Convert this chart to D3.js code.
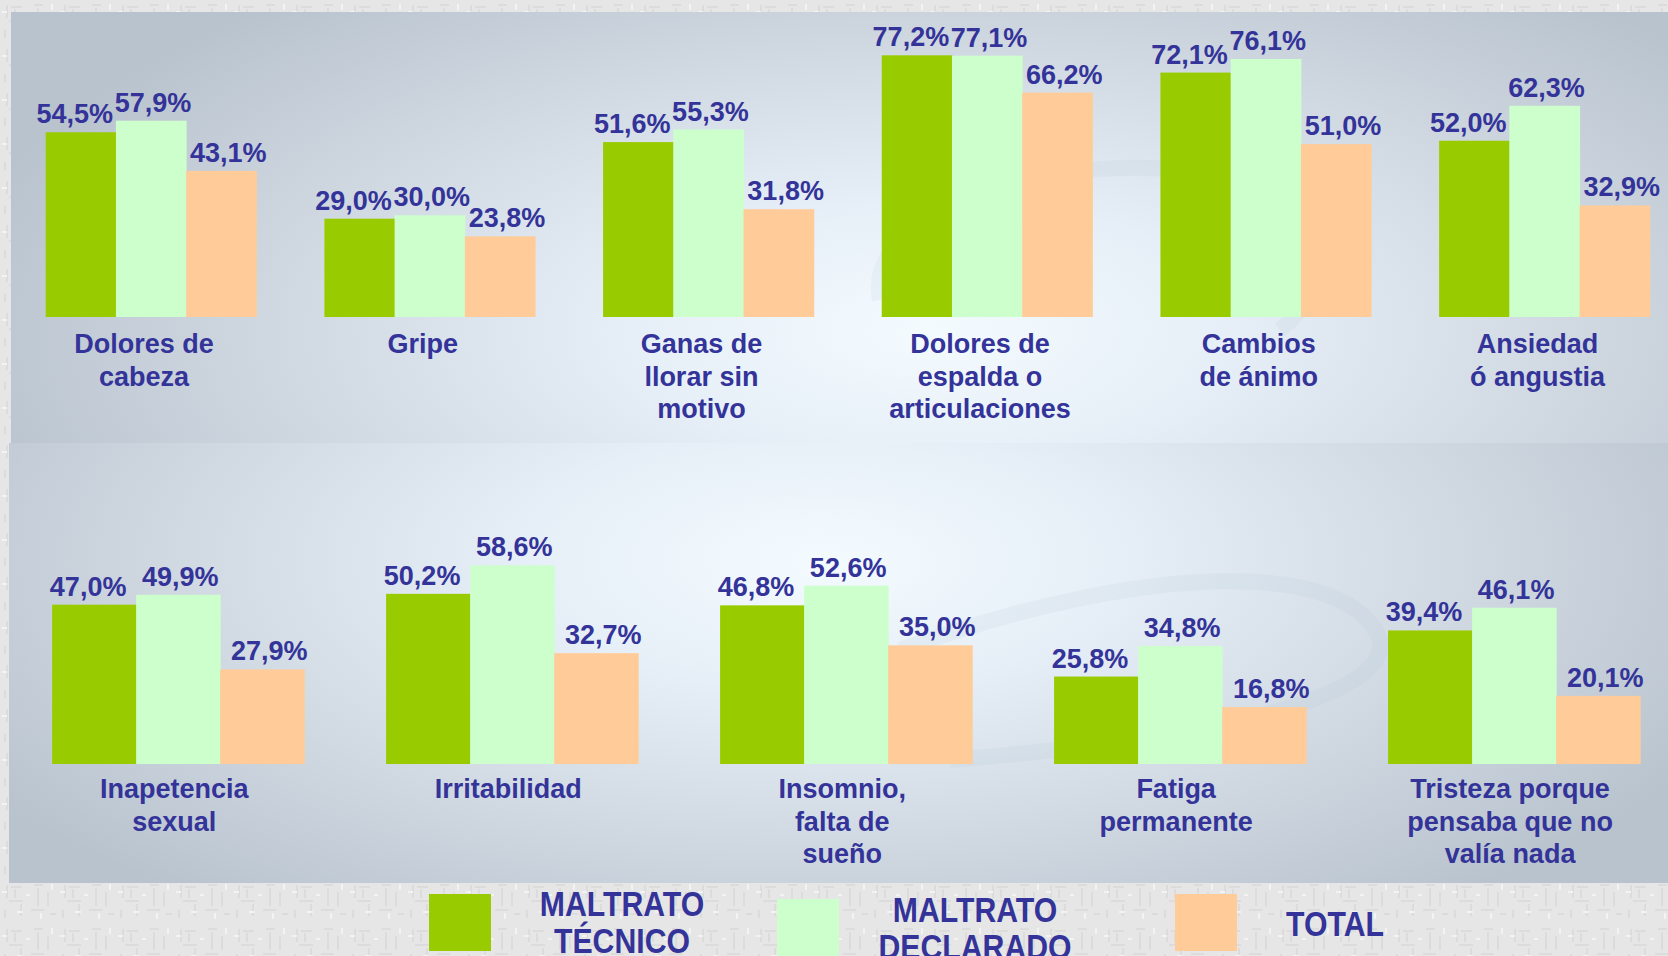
<!DOCTYPE html>
<html>
<head>
<meta charset="utf-8">
<script src="https://cdn.jsdelivr.net/npm/d3@7"></script>
<style>
  html, body { margin: 0; padding: 0; background: #e6e6e6; }
  svg { display: block; }
</style>
</head>
<body>
<script>
const width = 1668;
const height = 956;

// --- data ---
const series = ["MALTRATO TÉCNICO", "MALTRATO DECLARADO", "TOTAL"];
const colors = ["#99cc00", "#ccffcc", "#ffcc99"];

const topCategories = [
    ["Dolores de", "cabeza"],
    ["Gripe"],
    ["Ganas de", "llorar sin", "motivo"],
    ["Dolores de", "espalda o", "articulaciones"],
    ["Cambios", "de ánimo"],
    ["Ansiedad", "ó angustia"]
];
const topTecnico   = [54.5, 29.0, 51.6, 77.2, 72.1, 52.0];
const topDeclarado = [57.9, 30.0, 55.3, 77.1, 76.1, 62.3];
const topTotal     = [43.1, 23.8, 31.8, 66.2, 51.0, 32.9];

const bottomCategories = [
    ["Inapetencia", "sexual"],
    ["Irritabilidad"],
    ["Insomnio,", "falta de", "sueño"],
    ["Fatiga", "permanente"],
    ["Tristeza porque", "pensaba que no", "valía nada"]
];
const bottomTecnico   = [47.0, 50.2, 46.8, 25.8, 39.4];
const bottomDeclarado = [49.9, 58.6, 52.6, 34.8, 46.1];
const bottomTotal     = [27.9, 32.7, 35.0, 16.8, 20.1];

const textColor = "#333399";
const font = "'Liberation Sans', Arial, sans-serif";
// value labels sit a little apart from each other, per series
const labelNudge = [-6, 2, 7];

const svg = d3.select("body")
    .append("svg")
    .attr("width", width)
    .attr("height", height);

const defs = svg.append("defs");

// textured grey backdrop (soft marks)
const pat = defs.append("pattern")
    .attr("id", "tex")
    .attr("width", 58).attr("height", 44)
    .attr("patternUnits", "userSpaceOnUse");
pat.append("rect").attr("width", 58).attr("height", 44).attr("fill", "#e6e6e6");
pat.append("path")
    .attr("d", "M7 5v13M11 7h11M15 9v9M9 21h14M21 24v12M34 5h9M38 8v18M31 30h13M5 30v8M48 12v14M50 34h6")
    .attr("stroke", "#d9d9d9").attr("stroke-width", 1.5).attr("fill", "none");
pat.append("path")
    .attr("d", "M2 12h5M26 15h4M41 33v6M17 32h6M52 4v6")
    .attr("stroke", "#f3f3f3").attr("stroke-width", 2).attr("fill", "none");

svg.append("rect")
    .attr("width", width).attr("height", height)
    .attr("fill", "url(#tex)");

function panelGradient(id, cx, cy, r) {
    const g = defs.append("radialGradient")
        .attr("id", id)
        .attr("gradientUnits", "userSpaceOnUse")
        .attr("cx", cx).attr("cy", cy).attr("r", r)
        .attr("gradientTransform", `translate(${cx},${cy}) scale(1.6,0.7) translate(${-cx},${-cy})`);
    g.append("stop").attr("offset", "0%").attr("stop-color", "#f4fbff");
    g.append("stop").attr("offset", "30%").attr("stop-color", "#e6eff7");
    g.append("stop").attr("offset", "70%").attr("stop-color", "#cdd6df");
    g.append("stop").attr("offset", "100%").attr("stop-color", "#b9c3ce");
}
panelGradient("gTop", 930, 330, 620);
panelGradient("gBot", 820, 560, 620);

svg.append("rect")
    .attr("x", 11).attr("y", 12).attr("width", width - 11).attr("height", 431)
    .attr("fill", "url(#gTop)");
svg.append("rect")
    .attr("x", 9).attr("y", 443).attr("width", width - 9).attr("height", 440)
    .attr("fill", "url(#gBot)");

// very faint swirl in the background
svg.append("path")
    .attr("d", "M880 300 C 860 200, 1100 130, 1280 190 C 1340 220, 1330 290, 1280 330")
    .attr("fill", "none")
    .attr("stroke", "#aebccb")
    .attr("stroke-opacity", 0.12)
    .attr("stroke-width", 16);
svg.append("path")
    .attr("d", "M900 650 C 1150 560, 1350 560, 1380 640 C 1390 700, 1200 740, 950 760")
    .attr("fill", "none")
    .attr("stroke", "#aebccb")
    .attr("stroke-opacity", 0.12)
    .attr("stroke-width", 16);

// --- chart rows ---
function drawRow(cfg) {
    const n = cfg.categories.length;
    const x0 = d3.scaleBand()
        .domain(d3.range(n))
        .range([cfg.left, cfg.right])
        .paddingInner(cfg.pad)
        .paddingOuter(0);
    const x1 = d3.scaleBand()
        .domain(d3.range(series.length))
        .range([0, x0.bandwidth()]);
    const y = d3.scaleLinear()
        .domain([0, 100])
        .range([cfg.base, cfg.base - 339]);

    const rows = d3.range(n).map(i => cfg.values.map(v => v[i]));

    const g = svg.append("g");
    const groups = g.selectAll("g.grp")
        .data(rows)
        .join("g")
        .attr("class", "grp")
        .attr("transform", (d, i) => `translate(${x0(i)},0)`);

    groups.selectAll("rect")
        .data(d => d)
        .join("rect")
        .attr("x", (d, j) => x1(j))
        .attr("y", d => y(d))
        .attr("width", x1.bandwidth() + 0.5)
        .attr("height", d => y(0) - y(d))
        .attr("fill", (d, j) => colors[j]);

    groups.selectAll("text.val")
        .data(d => d)
        .join("text")
        .attr("class", "val")
        .attr("x", (d, j) => x1(j) + x1.bandwidth() / 2 + labelNudge[j])
        .attr("y", d => y(d) - 9)
        .attr("text-anchor", "middle")
        .attr("font-family", font)
        .attr("font-weight", "bold")
        .attr("font-size", 27)
        .attr("fill", textColor)
        .text(d => d.toFixed(1).replace(".", ",") + "%");

    const labels = g.selectAll("text.cat")
        .data(cfg.categories)
        .join("text")
        .attr("class", "cat")
        .attr("x", (d, i) => x0(i) + x0.bandwidth() / 2 + cfg.labelShift)
        .attr("y", cfg.base + cfg.labelOffset)
        .attr("text-anchor", "middle")
        .attr("font-family", font)
        .attr("font-weight", "bold")
        .attr("font-size", 27)
        .attr("fill", textColor);
    labels.selectAll("tspan")
        .data(d => d)
        .join("tspan")
        .attr("x", function() { return d3.select(this.parentNode).attr("x"); })
        .attr("dy", (d, k) => k === 0 ? 0 : 32.5)
        .text(d => d);
}

drawRow({
    categories: topCategories,
    values: [topTecnico, topDeclarado, topTotal],
    left: 45.7, right: 1649.8, pad: 0.244,
    base: 317, labelOffset: 36, labelShift: -7
});
drawRow({
    categories: bottomCategories,
    values: [bottomTecnico, bottomDeclarado, bottomTotal],
    left: 52.1, right: 1640.2, pad: 0.245,
    base: 764, labelOffset: 34, labelShift: -4
});

// --- legend ---
const legendItems = [
    { box: [429, 894], text: ["MALTRATO", "TÉCNICO"], tx: 622, ty: 916 },
    { box: [777, 899], text: ["MALTRATO", "DECLARADO"], tx: 975, ty: 922 },
    { box: [1175, 894], text: ["TOTAL"], tx: 1335, ty: 936 }
];
const legend = svg.append("g").attr("class", "legend");
legend.selectAll("rect")
    .data(legendItems)
    .join("rect")
    .attr("x", d => d.box[0])
    .attr("y", d => d.box[1])
    .attr("width", 62)
    .attr("height", 57)
    .attr("fill", (d, i) => colors[i]);

// condensed bold lettering: regular bold face squeezed horizontally
const lt = legend.selectAll("text")
    .data(legendItems)
    .join("text")
    .attr("transform", d => `translate(${d.tx},${d.ty}) scale(0.84,1)`)
    .attr("text-anchor", "middle")
    .attr("font-family", font)
    .attr("font-weight", "bold")
    .attr("font-size", 36)
    .attr("fill", textColor);
lt.selectAll("tspan")
    .data(d => d.text)
    .join("tspan")
    .attr("x", 0)
    .attr("dy", (d, k) => k === 0 ? 0 : 37)
    .text(d => d);
</script>
</body>
</html>
